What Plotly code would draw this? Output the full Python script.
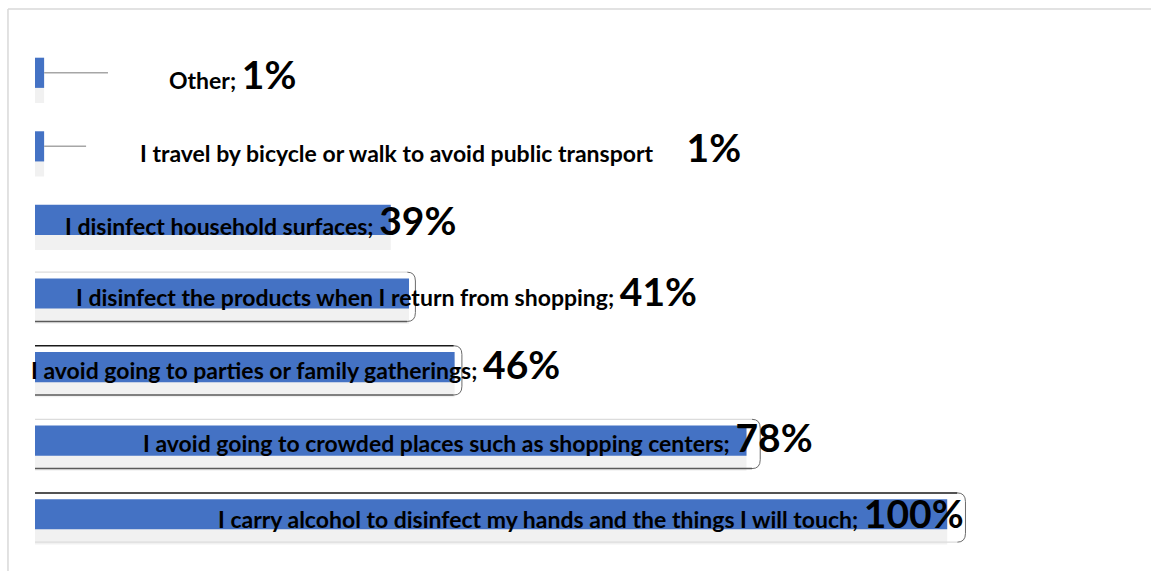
import plotly.graph_objects as go

# Survey answers (share of respondents, %)
categories = [
    "Other",
    "I travel by bicycle or walk to avoid public transport",
    "I disinfect household surfaces",
    "I disinfect the products when I return from shopping",
    "I avoid going to parties or family gatherings",
    "I avoid going to crowded places such as shopping centers",
    "I carry alcohol to disinfect my hands and the things I will touch",
]
values = [1, 1, 39, 41, 46, 78, 100]
separators = ["; ", "&nbsp;&nbsp;&nbsp;&nbsp;&nbsp;&nbsp;", "; ", "; ", "; ", "; ", "; "]

# where each data label sits (x in axis units, vertical pixel nudge)
label_x = [21.7, 44.5, 24.7, 38.5, 28.6, 48.6, 61.0]
label_shift = [-1, -1, 0, 3, 3, 4, 1]
# end of the leader line drawn for labels placed away from tiny bars
leader_end = {0: 8.0, 1: 5.6}
# rounded label-box frame around the longer bars: (row, right padding, top edge, bottom edge)
box_frames = [(3, 0.7, False, True), (4, 0.8, True, True),
              (5, 1.5, False, True), (6, 2.0, True, False)]

BLUE = "#4472C4"
ROW = list(range(len(categories)))

fig = go.Figure()

# soft drop shadow under each bar
fig.add_trace(go.Bar(
    y=ROW, x=values, orientation="h",
    width=0.53, offset=-0.12,
    marker=dict(color="#f1f1f1", line=dict(width=0)),
    hoverinfo="skip", showlegend=False,
))
# main bars
fig.add_trace(go.Bar(
    y=ROW, x=values, orientation="h",
    width=0.41, offset=-0.205,
    marker=dict(color=BLUE, line=dict(width=0)),
    hovertext=categories, hoverinfo="text+x", showlegend=False,
))

annotations = []
for i, (cat, v, sep) in enumerate(zip(categories, values, separators)):
    annotations.append(dict(
        x=label_x[i], y=i, xref="x", yref="y",
        text=f"{cat}{sep}<span style='font-size:39px'>{v}%</span>",
        showarrow=False, xanchor="center", yanchor="middle",
        yshift=label_shift[i],
        font=dict(family="Lato", size=23, color="#000000", weight=700),
    ))

shapes = []
for i, xe in leader_end.items():
    shapes.append(dict(type="line", xref="x", yref="y",
                       x0=values[i], x1=xe, y0=i, y1=i,
                       line=dict(color="#a6a6a6", width=1.5)))

# frames: thin edges with a rounded right end
for i, pad, top, bottom in box_frames:
    yt, yb = i - 0.29, i + 0.38
    xr = values[i] + pad
    xc = xr - 0.9
    shapes.append(dict(type="path", xref="x", yref="y",
                       path=f"M {xc},{yt} Q {xr},{yt} {xr},{yt + 0.12} "
                            f"L {xr},{yb - 0.12} Q {xr},{yb} {xc},{yb}",
                       line=dict(color="#6a6a6a", width=1)))
    shapes.append(dict(type="line", xref="x", yref="y",
                       x0=0, x1=xc, y0=yt, y1=yt,
                       line=dict(color="#1a1a1a" if top else "#dcdcdc",
                                 width=1.5 if top else 1.2)))
    shapes.append(dict(type="line", xref="x", yref="y",
                       x0=0, x1=xc, y0=yb, y1=yb,
                       line=dict(color="#5a5a5a" if bottom else "#dcdcdc",
                                 width=1.5 if bottom else 1.2)))

# chart frame (left and top edges)
shapes.append(dict(type="line", xref="paper", yref="paper",
                   x0=-0.0243, x1=-0.0243, y0=-0.2, y1=1.0524,
                   line=dict(color="#d9d9d9", width=1.5)))
shapes.append(dict(type="line", xref="paper", yref="paper",
                   x0=-0.0243, x1=1.1, y0=1.0524, y1=1.0524,
                   line=dict(color="#d9d9d9", width=1.5)))

fig.update_layout(
    width=1151, height=571,
    margin=dict(l=35, r=4, t=36, b=20),
    paper_bgcolor="white", plot_bgcolor="white",
    barmode="overlay",
    xaxis=dict(range=[0, 121.9], visible=False),
    yaxis=dict(range=[len(categories) - 0.5, -0.5], visible=False),
    annotations=annotations, shapes=shapes,
)

fig.write_html("out.html")
